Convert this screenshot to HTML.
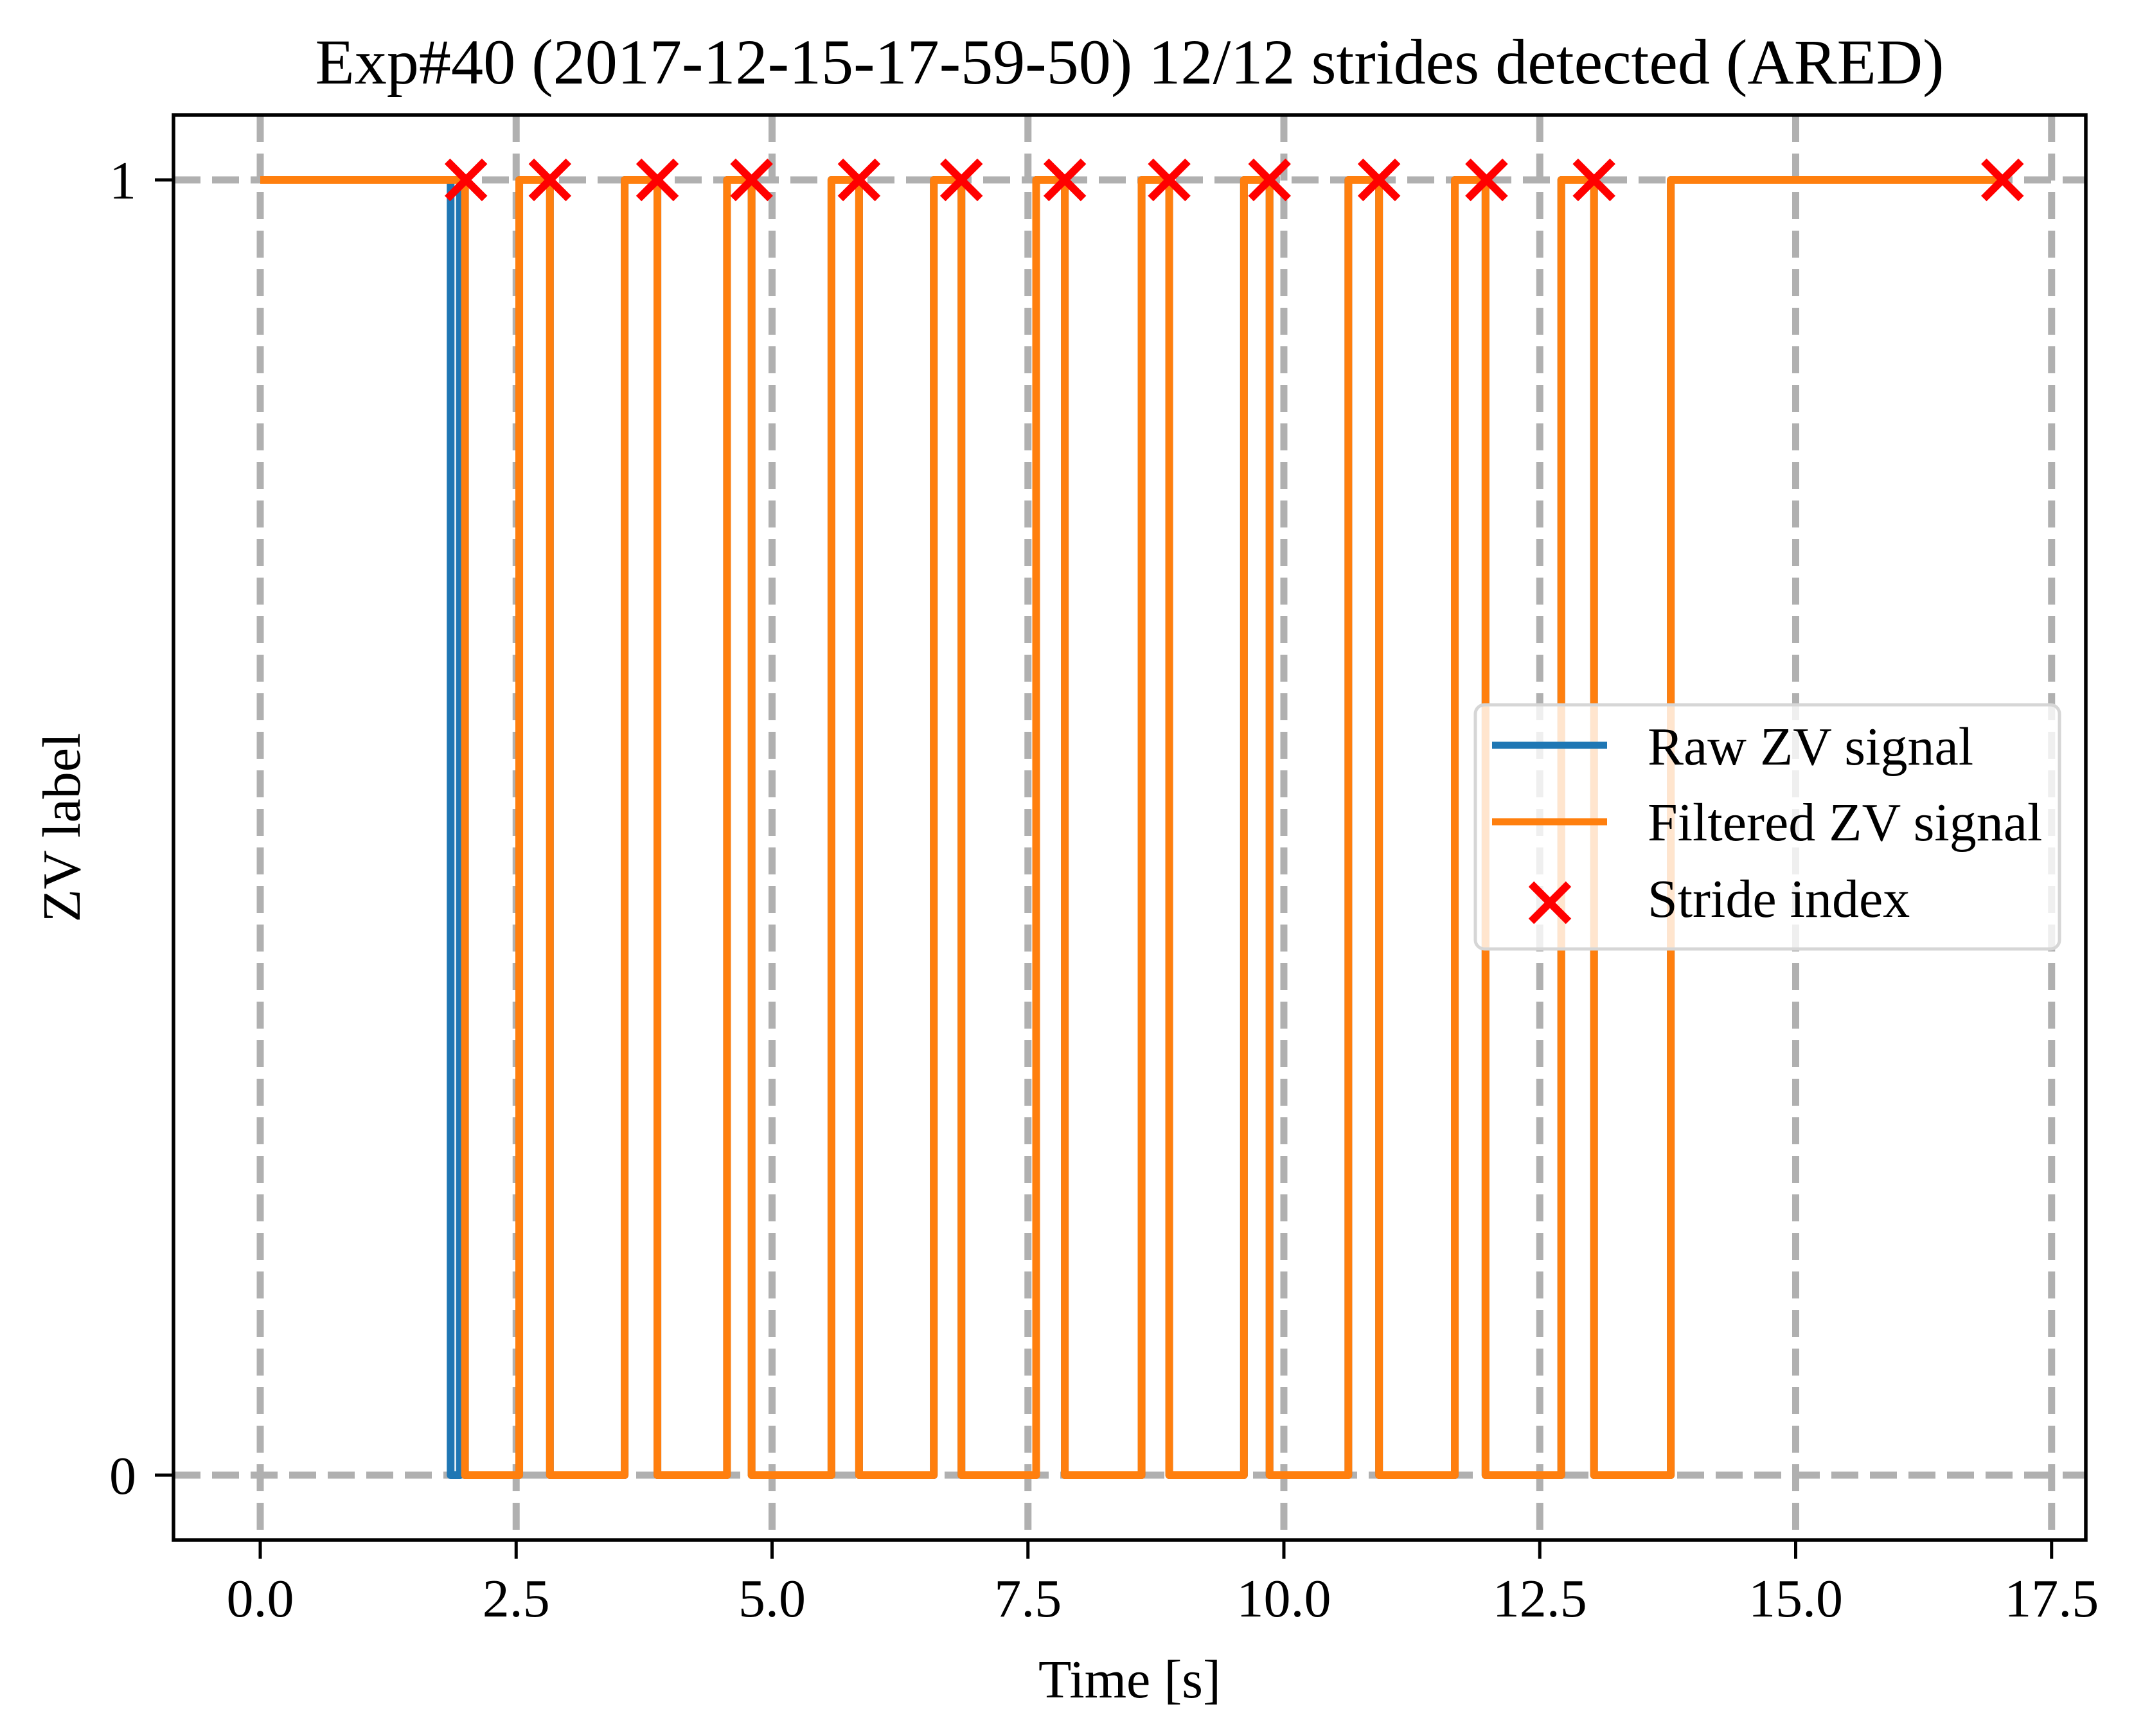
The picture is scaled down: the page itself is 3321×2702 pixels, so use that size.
<!DOCTYPE html>
<html><head><meta charset="utf-8"><style>html,body{margin:0;padding:0;background:#fff}svg{display:block}</style></head>
<body>
<svg id="chart" width="3321" height="2702" viewBox="0 0 3321 2702" xmlns="http://www.w3.org/2000/svg" font-family="'Liberation Serif', serif">
<rect x="0" y="0" width="3321" height="2702" fill="#fff"/>
<g id="grid"></g>
<g id="series"></g>
<g id="axes"></g>
<text x="1758" y="130" font-size="100" text-anchor="middle" textLength="2535" lengthAdjust="spacingAndGlyphs">Exp#40 (2017-12-15-17-59-50) 12/12 strides detected (ARED)</text>
<text x="1758" y="2642" font-size="84" text-anchor="middle">Time [s]</text>
<text x="0" y="0" font-size="84" text-anchor="middle" transform="translate(124,1288) rotate(-90)">ZV label</text>
<g>
<rect x="2296" y="1097" width="909" height="380" rx="14" fill="#fff" fill-opacity="0.8" stroke="#d6d6d6" stroke-width="5"/>
<line x1="2322" y1="1160" x2="2501" y2="1160" stroke="#1f77b4" stroke-width="11"/>
<text x="2564" y="1190" font-size="84">Raw ZV signal</text>
<line x1="2322" y1="1279" x2="2501" y2="1279" stroke="#ff7f0e" stroke-width="11"/>
<text x="2564" y="1308" font-size="84">Filtered ZV signal</text>
<path d="M2383,1376 L2441,1434 M2441,1376 L2383,1434" stroke="#ff0000" stroke-width="12"/>
<text x="2564" y="1427" font-size="84">Stride index</text>
</g>
</svg>
<script>
const rawTimes = [0, 1.86, 1.95, 2.0, 2.53, 2.83, 3.56, 3.88, 4.56, 4.80, 5.58, 5.85, 6.58, 6.85, 7.58, 7.86, 8.61, 8.88, 9.61, 9.86, 10.63, 10.93, 11.67, 11.97, 12.71, 13.03, 13.78, 17.05];
const rawValues = [1, 0, 1, 0, 1, 0, 1, 0, 1, 0, 1, 0, 1, 0, 1, 0, 1, 0, 1, 0, 1, 0, 1, 0, 1, 0, 1, 1];
const filtTimes = [0, 2.0, 2.53, 2.83, 3.56, 3.88, 4.56, 4.80, 5.58, 5.85, 6.58, 6.85, 7.58, 7.86, 8.61, 8.88, 9.61, 9.86, 10.63, 10.93, 11.67, 11.97, 12.71, 13.03, 13.78, 17.05];
const filtValues = [1, 0, 1, 0, 1, 0, 1, 0, 1, 0, 1, 0, 1, 0, 1, 0, 1, 0, 1, 0, 1, 0, 1, 0, 1, 1];
const strideTimes = [2.01, 2.83, 3.88, 4.80, 5.85, 6.85, 7.86, 8.88, 9.86, 10.93, 11.98, 13.03, 17.02];
const strideValues = [1, 1, 1, 1, 1, 1, 1, 1, 1, 1, 1, 1, 1];
const xTicks = [0, 2.5, 5, 7.5, 10, 12.5, 15, 17.5];
const xTickLabels = ["0.0", "2.5", "5.0", "7.5", "10.0", "12.5", "15.0", "17.5"];
const yTicks = [0, 1];
const yTickLabels = ["0", "1"];

const L = 270, R = 3246, T = 179, B = 2397;
const X = t => 405 + t * 159.3;
const Y = v => 2296 - v * 2016;
const NS = "http://www.w3.org/2000/svg";
function mk(tag, attrs, parent) {
  const e = document.createElementNS(NS, tag);
  for (const k in attrs) e.setAttribute(k, attrs[k]);
  parent.appendChild(e);
  return e;
}
const grid = document.getElementById('grid');
const series = document.getElementById('series');
const axes = document.getElementById('axes');

xTicks.forEach((t, i) => {
  const g = mk('line', {x1: X(t), x2: X(t), y1: T, y2: B, stroke: '#b0b0b0', 'stroke-width': 11, 'stroke-dasharray': '42 18'}, grid);
  
  
  const tk = mk('line', {x1: X(t), x2: X(t), y1: B, y2: B + 29, stroke: '#000', 'stroke-width': 5}, axes);
  
  
  const lb = mk('text', {x: X(t), y: 2516, 'font-size': 84, 'text-anchor': 'middle'}, axes);
  lb.textContent = xTickLabels[i];
  
  
});
yTicks.forEach((v, i) => {
  const g = mk('line', {x1: L, x2: R, y1: Y(v), y2: Y(v), stroke: '#b0b0b0', 'stroke-width': 11, 'stroke-dasharray': '42 18'}, grid);
  
  
  const tk = mk('line', {x1: L - 29, x2: L, y1: Y(v), y2: Y(v), stroke: '#000', 'stroke-width': 5}, axes);
  
  
  const lb = mk('text', {x: 212, y: Y(v) + 29, 'font-size': 84, 'text-anchor': 'end'}, axes);
  lb.textContent = yTickLabels[i];
  
  
});
const spine = mk('rect', {x: L, y: T, width: R - L, height: B - T, fill: 'none', stroke: '#000', 'stroke-width': 5.5}, axes);



function stepPath(ts, vs) {
  let d = 'M' + X(ts[0]) + ',' + Y(vs[0]);
  for (let i = 1; i < ts.length; i++) {
    d += ' L' + X(ts[i]) + ',' + Y(vs[i - 1]) + ' L' + X(ts[i]) + ',' + Y(vs[i]);
  }
  return d;
}
const raw = mk('path', {d: stepPath(rawTimes, rawValues), fill: 'none', stroke: '#1f77b4', 'stroke-width': 12, 'stroke-linejoin': 'round'}, series);


const filt = mk('path', {d: stepPath(filtTimes, filtValues), fill: 'none', stroke: '#ff7f0e', 'stroke-width': 12, 'stroke-linejoin': 'round'}, series);


strideTimes.forEach((t, i) => {
  const cx = X(t), cy = Y(strideValues[i]), s = 29;
  const m = mk('path', {d: `M${cx - s},${cy - s} L${cx + s},${cy + s} M${cx + s},${cy - s} L${cx - s},${cy + s}`, stroke: '#ff0000', 'stroke-width': 12}, series);
  
  
});
</script>
</body></html>
